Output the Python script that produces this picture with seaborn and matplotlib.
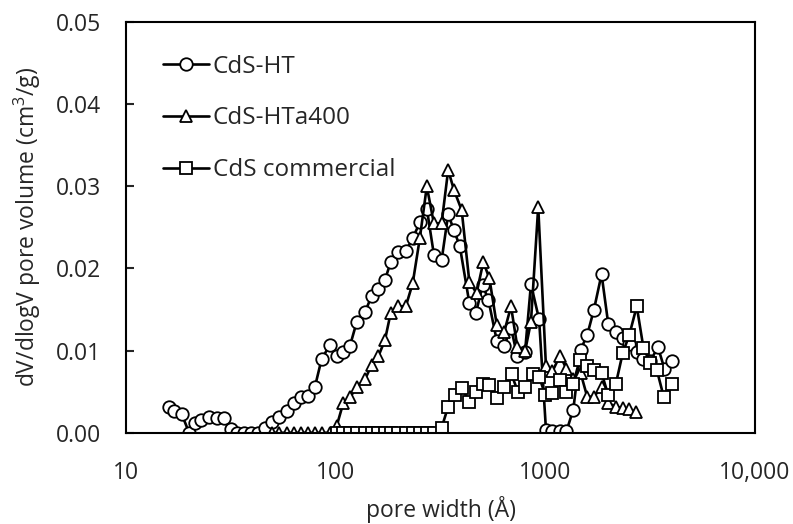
import matplotlib
matplotlib.use("Agg")
import matplotlib.pyplot as plt
from matplotlib import ticker
import seaborn as sns
import pandas as pd

# pore width (Å) and dV/dlogV values
ht_x = [16.1, 17.0, 18.4, 20.0, 21.3, 22.8, 24.9, 27.1, 29.4, 31.7,
        34.0, 36.6, 39.6, 42.8, 46.0, 49.5, 53.8, 58.4, 63.2, 68.0,
        74.0, 79.6, 85.7, 93.9, 101, 108.6, 117, 126, 138, 148.6,
        159.7, 171.8, 183, 199, 216, 233, 252, 272, 294, 320,
        344, 366, 391, 434, 467, 502, 535, 587, 637, 686,
        735, 800, 854, 934, 1007, 1082, 1175, 1261, 1359, 1473,
        1584, 1706, 1855, 1995, 2172, 2339, 2515, 2730, 2940, 3170,
        3450, 3700, 4000]
ht_y = [0.0032, 0.0027, 0.0023, 0.0, 0.0012, 0.0016, 0.0019, 0.0018, 0.0018, 0.0005,
        0.0, 0.0, 0.0, 0.0, 0.0006, 0.0013, 0.0019, 0.0026, 0.0036, 0.0044,
        0.0045, 0.0056, 0.0090, 0.0107, 0.0093, 0.0098, 0.0106, 0.0135, 0.0147, 0.0167,
        0.0175, 0.0186, 0.0208, 0.0220, 0.0221, 0.0237, 0.0256, 0.0273, 0.0217, 0.0210,
        0.0266, 0.0247, 0.0227, 0.0158, 0.0146, 0.0180, 0.0162, 0.0112, 0.0106, 0.0128,
        0.0093, 0.0098, 0.0181, 0.0138, 0.0004, 0.0002, 0.0002, 0.0002, 0.0028, 0.0101,
        0.0119, 0.0150, 0.0193, 0.0133, 0.0123, 0.0116, 0.0108, 0.0098, 0.0090, 0.0088,
        0.0104, 0.0078, 0.0087]

a400_x = [49.5, 53.8, 58.4, 63.2, 68.0, 74.0, 79.6, 85.7, 93.9,
          101, 108.6, 117, 126, 138, 148.6,
          159.7, 171.8, 183, 199, 216, 233, 252, 272, 294, 320,
          344, 366, 399, 434, 470, 506, 541, 587, 637, 686,
          735, 800, 854, 925, 1007, 1082, 1175, 1261, 1359, 1473,
          1584, 1706, 1855, 1995, 2172, 2339, 2515, 2705]
a400_y = [0, 0, 0, 0, 0, 0, 0, 0, 0,
          0.0008, 0.0036, 0.0043, 0.0056, 0.0065, 0.0083,
          0.0093, 0.0113, 0.0146, 0.0154, 0.0154, 0.0182, 0.0237, 0.0300, 0.0255, 0.0255,
          0.0320, 0.0296, 0.0271, 0.0184, 0.0170, 0.0208, 0.0188, 0.0131, 0.0123, 0.0154,
          0.0105, 0.0099, 0.0135, 0.0275, 0.0081, 0.0075, 0.0094, 0.0078, 0.0066, 0.0073,
          0.0044, 0.0044, 0.0056, 0.0036, 0.0032, 0.0030, 0.0029, 0.0025]

com_x = [101, 108.6, 117, 126, 138, 148.6, 159.7, 171.8, 183, 199,
         216, 233, 252, 272, 294,
         320, 344, 371, 399, 434, 467, 502, 541, 587, 637,
         690, 740, 800, 869, 935, 1000, 1082, 1175, 1261, 1359,
         1460, 1584, 1706, 1855, 1995, 2172, 2340, 2515, 2730, 2940,
         3170, 3400, 3670, 4000]
com_y = [0, 0, 0, 0, 0, 0, 0, 0, 0, 0,
         0, 0, 0, 0, 0,
         0.0006, 0.0032, 0.0046, 0.0055, 0.0038, 0.0050, 0.0060, 0.0058, 0.0042, 0.0056,
         0.0071, 0.0050, 0.0056, 0.0071, 0.0068, 0.0046, 0.0048, 0.0064, 0.0050, 0.0060,
         0.0089, 0.0081, 0.0077, 0.0073, 0.0046, 0.0060, 0.0097, 0.0119, 0.0154, 0.0103,
         0.0085, 0.0077, 0.0044, 0.0060]

x_ticks = [10, 100, 1000, 10000]
x_tick_labels = ["10", "100", "1000", "10,000"]
y_ticks = [0.00, 0.01, 0.02, 0.03, 0.04, 0.05]

sns.set_style("white")
plt.rcParams['font.family'] = ['Open Sans', 'DejaVu Sans']
plt.rcParams['mathtext.fontset'] = 'custom'
plt.rcParams['mathtext.rm'] = 'Open Sans'

fig = plt.figure(figsize=(7.93, 5.24), dpi=100)
ax = fig.add_axes([0.159, 0.174, 0.793, 0.784])

series = [
    ("CdS-HT", ht_x, ht_y, "o"),
    ("CdS-HTa400", a400_x, a400_y, "^"),
    ("CdS commercial", com_x, com_y, "s"),
]
for name, xs, ys, mk in series:
    df = pd.DataFrame({"width": xs, "dv": ys})
    sns.lineplot(data=df, x="width", y="dv", ax=ax, color="black", lw=1.9,
                 marker=mk, markersize=9, markerfacecolor="white",
                 markeredgecolor="black", markeredgewidth=1.3, label=name)

ax.set_xscale("log")
ax.set_xlim(10, 10000)
ax.set_ylim(0, 0.05)
ax.set_xticks(x_ticks)
ax.xaxis.set_major_formatter(ticker.FixedFormatter(x_tick_labels))
ax.xaxis.set_minor_locator(ticker.NullLocator())
ax.set_yticks(y_ticks)
ax.yaxis.set_major_formatter(ticker.StrMethodFormatter('{x:.2f}'))
ax.tick_params(axis='x', length=0, pad=20, labelsize=16.5)
ax.tick_params(axis='y', direction='in', length=6, width=1.5, pad=18, labelsize=16.5, left=True)

for sp in ax.spines.values():
    sp.set_linewidth(1.5)
    sp.set_color("black")

ax.set_xlabel("pore width (Å)", fontsize=16.5, labelpad=8)
ax.set_ylabel("dV/dlogV pore volume (cm$\\mathregular{^3}$/g)", fontsize=16.5, labelpad=9)

ax.legend(loc="upper left", frameon=False, fontsize=17.5, handlelength=1.9,
          labelspacing=1.15, handletextpad=0.15, borderaxespad=0.6,
          bbox_to_anchor=(0.02, 0.98))

fig.savefig("out.png", dpi=100)
